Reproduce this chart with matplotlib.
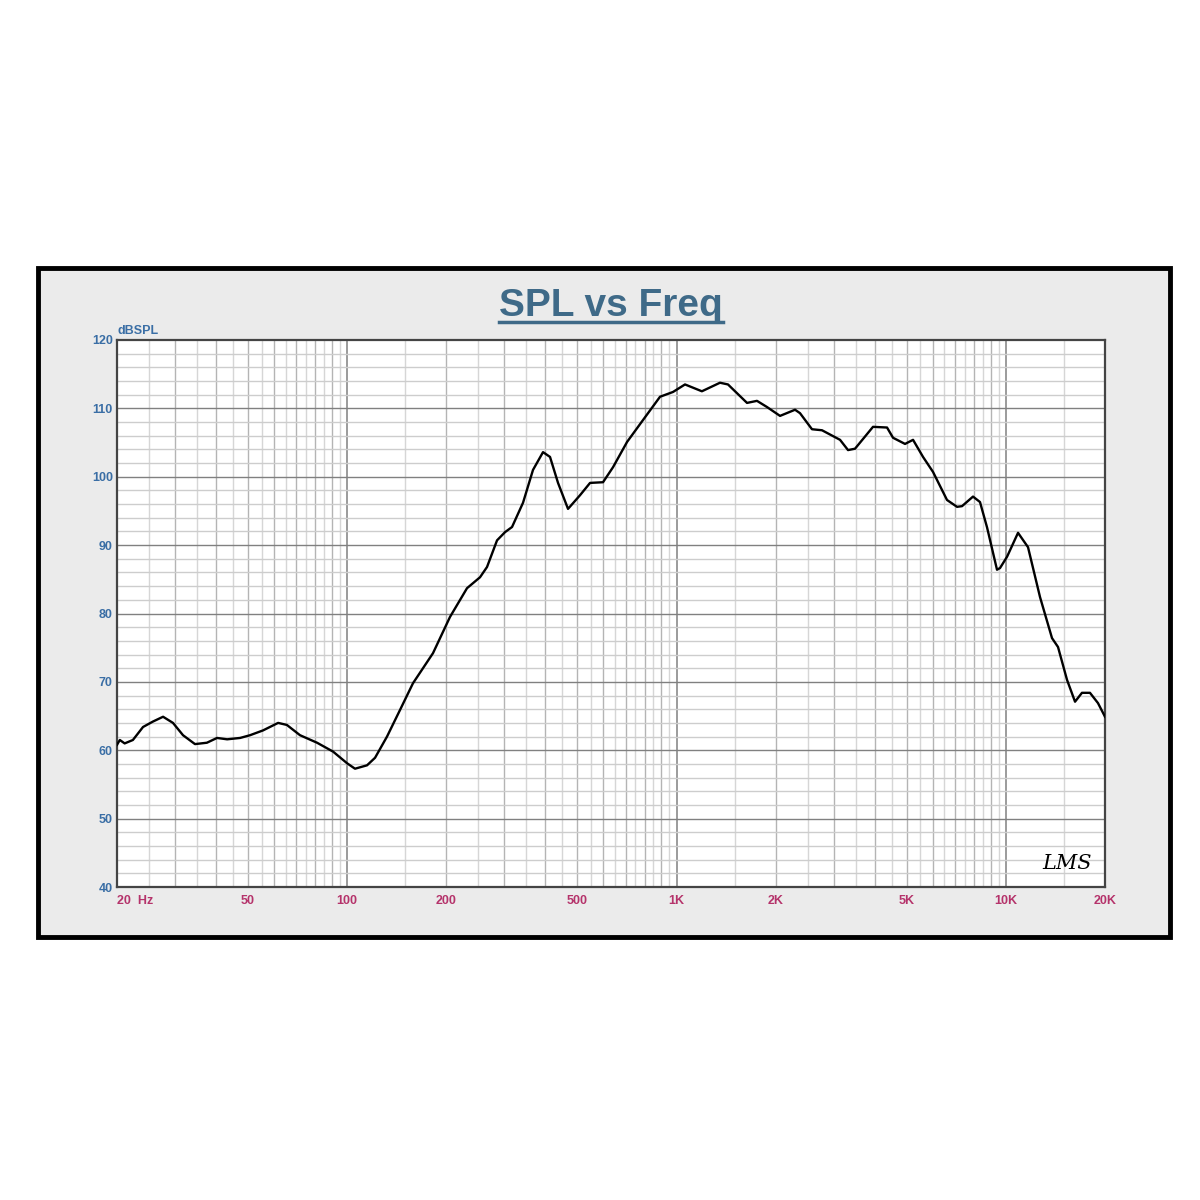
import matplotlib
matplotlib.use("Agg")
import matplotlib.pyplot as plt
from matplotlib.patches import Rectangle
from matplotlib.ticker import FixedLocator, NullFormatter
import numpy as np

# measured response (Hz, dB SPL)
freq = [20.0, 20.4, 21.1, 22.35, 23.99, 25.72, 27.6, 29.58, 31.73, 34.5, 37.5,
        40.25, 43.2, 47.3, 50.7, 55.5, 61.7, 65.6, 71.9, 81.0, 90.6, 99.9,
        105.6, 114.9, 121.5, 132.1, 144.7, 158.4, 182.2, 205.2, 231.1, 253.1,
        265.8, 285.1, 301.5, 316.6, 341.9, 366.6, 393.2, 412.9, 436.7, 468.3,
        509.3, 546.3, 598.2, 641.5, 707.8, 791.2, 891.0, 975.7, 1061, 1194,
        1355, 1433, 1637, 1755, 1882, 2062, 2290, 2371, 2578, 2765, 3137,
        3317, 3483, 3950, 4357, 4544, 4941, 5226, 5604, 6010, 6627, 7108,
        7361, 7948, 8346, 8767, 9400, 9600, 10083, 10888, 11675, 12698,
        13808, 14400, 15335, 16219, 17025, 18005, 19041, 20000]
spl = [60.8, 61.5, 61.0, 61.5, 63.4, 64.2, 64.9, 64.0, 62.2, 60.9, 61.1,
       61.8, 61.6, 61.8, 62.2, 62.9, 64.0, 63.7, 62.2, 61.1, 59.8, 58.1,
       57.3, 57.8, 58.9, 62.0, 65.9, 69.8, 74.2, 79.5, 83.7, 85.3,
       86.8, 90.7, 91.9, 92.65, 96.2, 101.0, 103.6, 102.9, 99.1, 95.3,
       97.3, 99.1, 99.2, 101.4, 105.1, 108.3, 111.7, 112.4, 113.5, 112.5,
       113.75, 113.5, 110.8, 111.1, 110.2, 108.9, 109.8, 109.3, 106.95, 106.8, 105.4,
       103.9, 104.1, 107.3, 107.2, 105.7, 104.8, 105.4, 102.9, 100.7, 96.6, 95.6,
       95.7, 97.1, 96.3, 92.6, 86.4, 86.65, 88.3, 91.8, 89.7, 82.4,
       76.4, 75.1, 70.3, 67.1, 68.4, 68.4, 66.9, 64.9]

xticks = [20, 50, 100, 200, 500, 1000, 2000, 5000, 10000, 20000]
xlabels = ["20  Hz", "50", "100", "200", "500", "1K", "2K", "5K", "10K", "20K"]
yticks = [40, 50, 60, 70, 80, 90, 100, 110, 120]

fig = plt.figure(figsize=(12, 12), dpi=100)
fig.patch.set_facecolor("white")

# outer panel, behind everything
fig.patches.append(Rectangle((38 / 1200, 1 - 937 / 1200), (1170 - 38) / 1200, (937 - 268) / 1200,
                             transform=fig.transFigure, facecolor="#ebebeb",
                             edgecolor="black", linewidth=3.5, zorder=-10))

ax = fig.add_axes([117 / 1200, 1 - 887 / 1200, (1105 - 117) / 1200, (887 - 340) / 1200])
ax.set_zorder(1)
ax.set_facecolor("white")
ax.set_xscale("log")
ax.set_xlim(20, 20000)
ax.set_ylim(40, 120)

# grid: half-step lines light, integer multiples medium, decades dark
for dec in [10, 100, 1000, 10000]:
    for m in np.arange(1.5, 10, 0.5):
        f = dec * m
        if f <= 20 or f >= 20000:
            continue
        col = "#b4b4b4" if m == int(m) else "#d6d6d6"
        ax.axvline(f, color=col, linewidth=1.0, zorder=1)
for d in [100, 1000, 10000]:
    ax.axvline(d, color="#808080", linewidth=1.1, zorder=1)
for v in np.arange(42, 120, 2):
    ax.axhline(v, color="#808080" if v % 10 == 0 else "#cdcdcd", linewidth=1.0, zorder=1)

ax.plot(freq, spl, color="black", linewidth=1.7, zorder=3)

ax.xaxis.set_major_locator(FixedLocator(xticks))
ax.xaxis.set_minor_formatter(NullFormatter())
ax.xaxis.set_minor_locator(FixedLocator([]))
ax.set_xticklabels(xlabels)
ax.set_yticks(yticks)
ax.tick_params(axis="both", which="both", length=0)
ax.tick_params(axis="x", pad=6, labelsize=9, labelcolor="#b5336b")
ax.tick_params(axis="y", pad=3, labelsize=9, labelcolor="#3a6ea5")
for lab in ax.get_xticklabels() + ax.get_yticklabels():
    lab.set_fontweight("bold")
    lab.set_family("Liberation Sans")
ax.get_xticklabels()[0].set_horizontalalignment("left")
for s in ax.spines.values():
    s.set_color("#444444")
    s.set_linewidth(1.6)

ax.text(0.0, 1.006, "dBSPL", transform=ax.transAxes, ha="left", va="bottom",
        fontsize=9, color="#3a6ea5", fontweight="bold", family="Liberation Sans")
ax.text(0.962, 0.025, "LMS", transform=ax.transAxes, ha="center", va="bottom",
        fontsize=15, style="italic", color="black", family="DejaVu Serif")

# title with underline
title_col = "#3f6a88"
fig.text(611 / 1200, 1 - 306 / 1200, "SPL vs Freq", ha="center", va="center",
         fontsize=28, fontweight="bold", color=title_col, family="Liberation Sans")
fig.lines.append(plt.Line2D([499 / 1200, 723 / 1200], [1 - 322 / 1200, 1 - 322 / 1200],
                            transform=fig.transFigure, color=title_col, linewidth=2.5))

fig.savefig("out.png", dpi=100)
